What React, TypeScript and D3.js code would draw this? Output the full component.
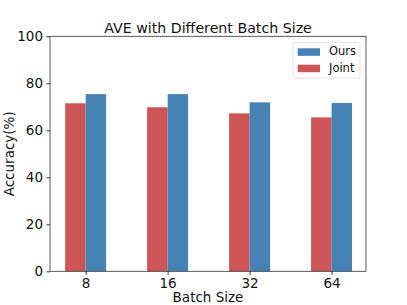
import React, { useRef, useEffect } from "react";
import * as d3 from "d3";

const categories = ["8", "16", "32", "64"];
const jointValues = [71.5, 69.8, 67.2, 65.5];
const oursValues = [75.4, 75.4, 71.9, 71.6];
const yTicks = [0, 20, 40, 60, 80, 100];

const width = 407;
const height = 305;

export default function App() {
  const svgRef = useRef<SVGSVGElement>(null);

  useEffect(() => {
    const svg = d3.select(svgRef.current);
    svg.selectAll("*").remove();

    const margin = { top: 36.3, right: 41, bottom: 33.7, left: 50 };
    const chartWidth = width - margin.left - margin.right;
    const chartHeight = height - margin.top - margin.bottom;
    const font = "DejaVu Sans, sans-serif";

    const g = svg
      .append("g")
      .attr("transform", `translate(${margin.left},${margin.top})`);

    // matplotlib style positions 0..n-1 with a bit of padding
    const xScale = d3
      .scaleLinear()
      .domain([-0.435, categories.length - 1 + 0.42])
      .range([0, chartWidth]);
    const yScale = d3.scaleLinear().domain([0, 100]).range([chartHeight, 0]);
    const barW = 0.25;

    // Joint bars (left)
    g.selectAll(".joint")
      .data(jointValues)
      .enter()
      .append("rect")
      .attr("x", (_, i) => xScale(i - barW))
      .attr("y", (d) => yScale(d))
      .attr("width", xScale(barW) - xScale(0))
      .attr("height", (d) => chartHeight - yScale(d))
      .attr("fill", "#cd5555");

    // Ours bars (right)
    g.selectAll(".ours")
      .data(oursValues)
      .enter()
      .append("rect")
      .attr("x", (_, i) => xScale(i))
      .attr("y", (d) => yScale(d))
      .attr("width", xScale(barW) - xScale(0))
      .attr("height", (d) => chartHeight - yScale(d))
      .attr("fill", "#4682b4");

    // frame
    g.append("rect")
      .attr("width", chartWidth)
      .attr("height", chartHeight)
      .attr("fill", "none")
      .attr("stroke", "#333")
      .attr("stroke-width", 0.8);

    // y axis
    const yAxis = g
      .append("g")
      .call(d3.axisLeft(yScale).tickValues(yTicks).tickSize(3.5).tickPadding(3.5));
    yAxis.select(".domain").remove();
    yAxis
      .selectAll("text")
      .attr("font-family", font)
      .attr("font-size", "13.5px")
      .attr("fill", "#111");
    yAxis.selectAll("line").attr("stroke", "#333");

    // x axis
    const xAxis = g
      .append("g")
      .attr("transform", `translate(0,${chartHeight})`)
      .call(
        d3
          .axisBottom(xScale)
          .tickValues(d3.range(categories.length))
          .tickFormat((d) => categories[d as number])
          .tickSize(3.5)
          .tickPadding(3.5)
      );
    xAxis.select(".domain").remove();
    xAxis
      .selectAll("text")
      .attr("font-family", font)
      .attr("font-size", "13.5px")
      .attr("fill", "#111");
    xAxis.selectAll("line").attr("stroke", "#333");

    // title
    svg
      .append("text")
      .attr("x", margin.left + chartWidth / 2)
      .attr("y", 32.8)
      .attr("text-anchor", "middle")
      .attr("font-family", font)
      .attr("font-size", "14.2px")
      .attr("fill", "#111")
      .text("AVE with Different Batch Size");

    // axis labels
    svg
      .append("text")
      .attr("x", margin.left + chartWidth / 2)
      .attr("y", 302)
      .attr("text-anchor", "middle")
      .attr("font-family", font)
      .attr("font-size", "13.5px")
      .attr("fill", "#111")
      .text("Batch Size");

    svg
      .append("text")
      .attr("transform", `translate(14,${margin.top + chartHeight / 2}) rotate(-90)`)
      .attr("text-anchor", "middle")
      .attr("font-family", font)
      .attr("font-size", "13.5px")
      .attr("fill", "#111")
      .text("Accuracy(%)");

    // legend
    const legend = svg.append("g").attr("transform", "translate(293,42.3)");
    legend
      .append("rect")
      .attr("width", 67)
      .attr("height", 35.7)
      .attr("rx", 2)
      .attr("fill", "white")
      .attr("stroke", "#ddd")
      .attr("stroke-width", 0.8);
    const items = [
      { label: "Ours", color: "#4682b4" },
      { label: "Joint", color: "#cd5555" },
    ];
    items.forEach((it, i) => {
      legend
        .append("rect")
        .attr("x", 4.7)
        .attr("y", 6 + i * 16.4)
        .attr("width", 22.3)
        .attr("height", 7.5)
        .attr("fill", it.color);
      legend
        .append("text")
        .attr("x", 36)
        .attr("y", 9.7 + i * 16.4)
        .attr("dominant-baseline", "middle")
        .attr("font-family", font)
        .attr("font-size", "11.5px")
        .attr("fill", "#111")
        .text(it.label);
    });
  }, []);

  return (
    <svg
      ref={svgRef}
      width={width}
      height={height}
      style={{ position: "absolute", left: 0, top: 0, background: "white" }}
    />
  );
}
